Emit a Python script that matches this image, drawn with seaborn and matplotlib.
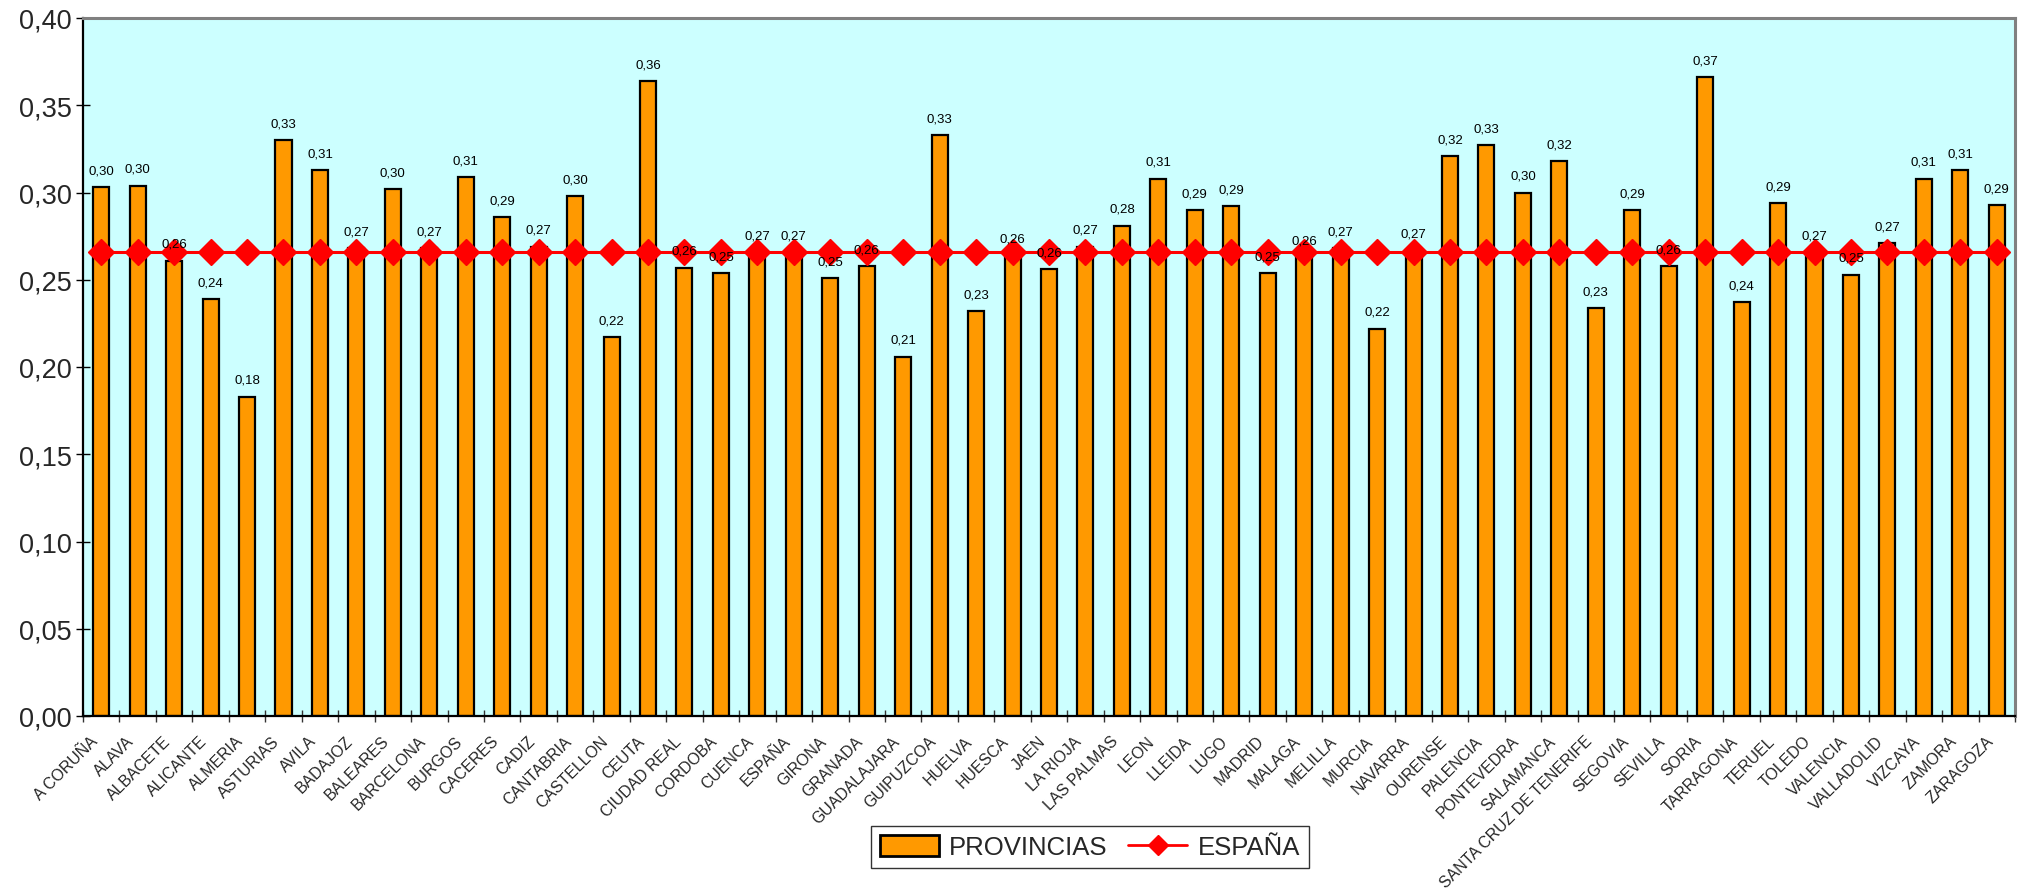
import numpy as np
import matplotlib
matplotlib.use("Agg")
import matplotlib.pyplot as plt
from matplotlib.patches import Patch
from matplotlib.lines import Line2D
from matplotlib.ticker import FuncFormatter, FixedLocator
from matplotlib.transforms import ScaledTranslation
import seaborn as sns

provincias = ["A CORUÑA", "ALAVA", "ALBACETE", "ALICANTE", "ALMERIA", "ASTURIAS", "AVILA",
              "BADAJOZ", "BALEARES", "BARCELONA", "BURGOS", "CACERES", "CADIZ", "CANTABRIA",
              "CASTELLON", "CEUTA", "CIUDAD REAL", "CORDOBA", "CUENCA", "ESPAÑA", "GIRONA",
              "GRANADA", "GUADALAJARA", "GUIPUZCOA", "HUELVA", "HUESCA", "JAEN", "LA RIOJA",
              "LAS PALMAS", "LEON", "LLEIDA", "LUGO", "MADRID", "MALAGA", "MELILLA", "MURCIA",
              "NAVARRA", "OURENSE", "PALENCIA", "PONTEVEDRA", "SALAMANCA",
              "SANTA CRUZ DE TENERIFE", "SEGOVIA", "SEVILLA", "SORIA", "TARRAGONA", "TERUEL",
              "TOLEDO", "VALENCIA", "VALLADOLID", "VIZCAYA", "ZAMORA", "ZARAGOZA"]

valores_provincias = [0.303, 0.304, 0.261, 0.239, 0.183, 0.330, 0.313,
                      0.268, 0.302, 0.268, 0.309, 0.286, 0.269, 0.298,
                      0.217, 0.364, 0.257, 0.254, 0.266, 0.266, 0.251,
                      0.258, 0.206, 0.333, 0.232, 0.264, 0.256, 0.269,
                      0.281, 0.308, 0.290, 0.292, 0.254, 0.263, 0.268, 0.222,
                      0.267, 0.321, 0.327, 0.300, 0.318,
                      0.234, 0.290, 0.258, 0.366, 0.237, 0.294,
                      0.266, 0.253, 0.271, 0.308, 0.313, 0.293]

valor_espana = 0.266
valores_espana = [valor_espana] * len(provincias)

y_ticks = [0.00, 0.05, 0.10, 0.15, 0.20, 0.25, 0.30, 0.35, 0.40]

sns.set_theme(style="white")
plt.rcParams['font.family'] = ['Liberation Sans', 'DejaVu Sans']

fig = plt.figure(figsize=(20.28, 8.95), dpi=100)
ax = fig.add_axes([83 / 2028, 1 - 717 / 895, (2015 - 83) / 2028, (717 - 19) / 895])
ax.set_facecolor("#CCFFFF")

x = np.arange(len(provincias))
sns.barplot(x=x, y=valores_provincias, color="#FF9900", saturation=1, width=0.44,
            edgecolor="black", linewidth=1.6, ax=ax, zorder=2)

ax.plot(x, valores_espana, color="#FF0000", linewidth=2.2, marker="D", markersize=13,
        markerfacecolor="#FF0000", markeredgecolor="#FF0000", zorder=3)

for xi, v in zip(x, valores_provincias):
    ax.annotate(f"{v:.2f}".replace(".", ","), (xi, v), xytext=(0, 12),
                textcoords="offset points", ha="center", va="center",
                fontsize=9.5, color="black", zorder=5)

ax.set_xlim(-0.5, len(provincias) - 0.5)
ax.set_ylim(0, 0.40)
ax.yaxis.set_major_locator(FixedLocator(y_ticks))
ax.yaxis.set_major_formatter(FuncFormatter(lambda v, p: f"{v:.2f}".replace(".", ",")))
ax.tick_params(axis="y", which="major", direction="inout", length=10.5, width=1,
               labelsize=19.5, pad=3, left=True, color="black")

ax.set_xticks(x)
ax.set_xticklabels(provincias, rotation=45, ha="right", rotation_mode="anchor",
                   va="center", fontsize=11.4)
ax.tick_params(axis="x", which="major", length=0, pad=16)
ax.set_xticks(np.arange(-0.5, len(provincias), 1), minor=True)
ax.tick_params(axis="x", which="minor", direction="inout", length=8, width=1,
               bottom=True, color="#333333")
shift = ScaledTranslation(-6 / 100, 0, fig.dpi_scale_trans)
for lab in ax.get_xticklabels():
    lab.set_transform(lab.get_transform() + shift)
ax.set_xlabel("")
ax.set_ylabel("")

for side in ["left", "bottom"]:
    ax.spines[side].set_color("black")
    ax.spines[side].set_linewidth(1.6)
for side in ["top", "right"]:
    ax.spines[side].set_color("#808080")
    ax.spines[side].set_linewidth(2.2)
for s in ax.spines.values():
    s.set_zorder(4)

handles = [Patch(facecolor="#FF9900", edgecolor="black", linewidth=2.0, label="PROVINCIAS"),
           Line2D([0], [0], color="#FF0000", linewidth=2, marker="D", markersize=10,
                  markerfacecolor="#FF0000", markeredgecolor="#FF0000", label="ESPAÑA")]
leg = fig.legend(handles=handles, loc="center", bbox_to_anchor=(1090 / 2028, 1 - 848 / 895),
                 ncol=2, fontsize=18.5, frameon=True, fancybox=False, edgecolor="black",
                 handlelength=2.3, handleheight=0.9, columnspacing=0.8, handletextpad=0.4,
                 borderpad=0.35, borderaxespad=0)
leg.get_frame().set_linewidth(1.0)

fig.savefig("out.png", dpi=100, facecolor="white")
